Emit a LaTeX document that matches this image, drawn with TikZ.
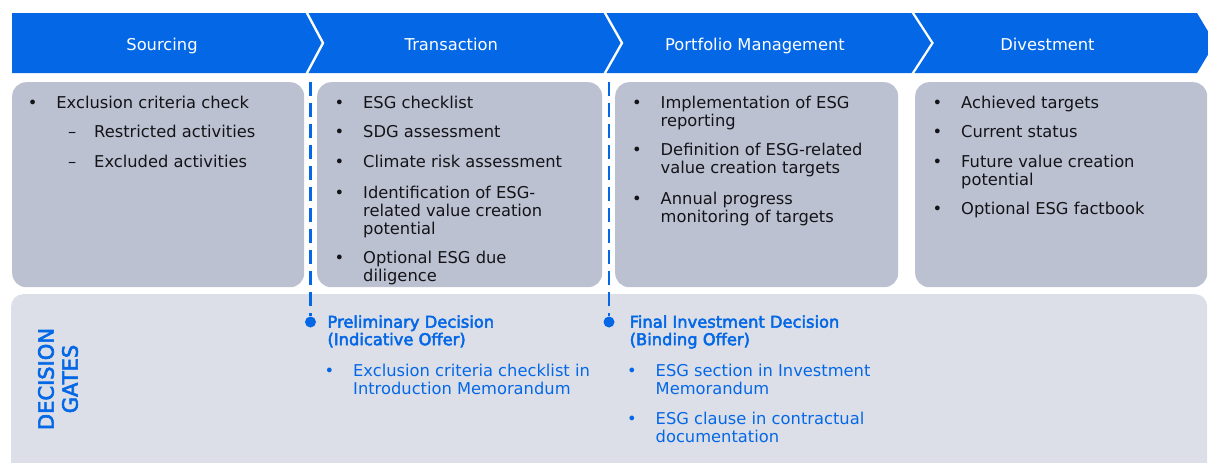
\documentclass[tikz,border=0pt]{standalone}
\usepackage{fontspec}
\setmainfont{DejaVu Sans}
\newfontfamily\semib[FakeBold=3]{DejaVu Sans}
\usetikzlibrary{positioning}

\definecolor{esgblue}{RGB}{4,104,230}
\definecolor{boxgrey}{RGB}{188,193,210}
\definecolor{gategrey}{RGB}{220,223,232}
\definecolor{textdark}{RGB}{20,20,24}

\newlength\bulw
\setlength\bulw{28.5pt}
\newcommand\bul[1]{\makebox[\bulw][l]{\textbullet}\begin{tabular}[t]{@{}l@{}}#1\end{tabular}}
\newcommand\subbul[1]{\makebox[26pt][l]{\textendash}\begin{tabular}[t]{@{}l@{}}#1\end{tabular}}

\begin{document}
\begin{tikzpicture}[x=1pt,y=-1pt,
                    stage/.style={fill=esgblue},
                    stagelabel/.style={anchor=base,text=white,font=\fontsize{16.3}{18}\selectfont},
                    phasebox/.style={fill=boxgrey,rounded corners=14pt,anchor=north west,inner sep=0pt},
                    item/.style={anchor=north west,inner sep=0pt,text=textdark,font=\fontsize{16.3}{18}\selectfont},
                    gatetitle/.style={item,text=esgblue,font=\semib\fontsize{16.3}{17}\selectfont},
                    gateitem/.style={item,text=esgblue},
                    gatedot/.style={circle,fill=esgblue,inner sep=0pt,minimum size=11pt},
                    gateline/.style={esgblue,line width=2.8pt,dash pattern=on 14pt off 7pt}]

\useasboundingbox (0,0) rectangle (1208,463);
\clip (0,0) rectangle (1208,463);

% stages
\fill[stage] (12,13) -- (305.5,13) -- (321.5,43) -- (305.5,73) -- (12,73) -- cycle;
\fill[stage] (308.5,13) -- (603.5,13) -- (620.5,43) -- (603.5,73) -- (308.5,73) -- (324.5,43) -- cycle;
\fill[stage] (606.5,13) -- (911.5,13) -- (931,43) -- (911.5,73) -- (606.5,73) -- (623.5,43) -- cycle;
\fill[stage] (914.5,13) -- (1197,13) -- (1215,43) -- (1197,73) -- (914.5,73) -- (934,43) -- cycle;

\node[stagelabel] (sourcing) at (162,50.7) {Sourcing};
\node[stagelabel] (transaction) at (451.3,50.7) {Transaction};
\node[stagelabel] (portfolio) at (755,50.7) {Portfolio Management};
\node[stagelabel] (divestment) at (1047.5,50.7) {Divestment};

% phase boxes
\node[phasebox,minimum width=292pt,minimum height=205pt] (sourcingbox) at (12,82) {};
\node[phasebox,minimum width=285pt,minimum height=205pt] (transactionbox) at (317,82) {};
\node[phasebox,minimum width=283pt,minimum height=205pt] (portfoliobox) at (615,82) {};
\node[phasebox,minimum width=292pt,minimum height=205pt] (divestmentbox) at (915,82) {};

% sourcing
\node[item] (excl) at (27.7,95.4) {\bul{Exclusion criteria check}};
\node[item,below=11pt of excl.south west,anchor=north west,xshift=40.3pt] (restr) {\subbul{Restricted activities}};
\node[item,below=11pt of restr.south west,anchor=north west] (excld) {\subbul{Excluded activities}};

% transaction
\node[item] (checklist) at (334.5,95.4) {\bul{ESG checklist}};
\node[item,below=11pt of checklist.south west,anchor=north west] (sdg) {\bul{SDG assessment}};
\node[item,below=11pt of sdg.south west,anchor=north west] (climate) {\bul{Climate risk assessment}};
\node[item,below=13pt of climate.south west,anchor=north west] (ident) {\bul{Identification of ESG-\\related value creation\\potential}};
\node[item,below=11pt of ident.south west,anchor=north west] (duedil) {\bul{Optional ESG due\\diligence}};

% portfolio management
\node[item] (implem) at (632,95.4) {\bul{Implementation of ESG\\reporting}};
\node[item,below=11pt of implem.south west,anchor=north west] (defin) {\bul{Definition of ESG-related\\value creation targets}};
\node[item,below=12pt of defin.south west,anchor=north west] (annual) {\bul{Annual progress\\monitoring of targets}};

% divestment
\node[item] (achieved) at (932.5,95.4) {\bul{Achieved targets}};
\node[item,below=11pt of achieved.south west,anchor=north west] (current) {\bul{Current status}};
\node[item,below=11pt of current.south west,anchor=north west] (future) {\bul{Future value creation\\potential}};
\node[item,below=11pt of future.south west,anchor=north west] (factbook) {\bul{Optional ESG factbook}};

% decision gates
\node[fill=gategrey,rounded corners=12pt,anchor=north west,inner sep=0pt,
      minimum width=1196pt,minimum height=190pt] (gatepanel) at (11,294) {};
\node[rotate=90,align=center,inner sep=0pt,text=esgblue,font=\semib\fontsize{21}{24}\selectfont] (gates) at (58,379) {DECISION\\GATES};

\coordinate (gate1top) at (310.5,82);
\node[gatedot] (gate1) at (310.5,322) {};
\draw[gateline] (gate1top) -- (gate1);
\coordinate (gate2top) at (609,82);
\node[gatedot] (gate2) at (609,322) {};
\draw[gateline] (gate2top) -- (gate2);

\node[gatetitle] (prelim) at (327.3,315.1) {\begin{tabular}[t]{@{}l@{}}Preliminary Decision\\(Indicative Offer)\end{tabular}};
\node[gateitem,below=13pt of prelim.south west,anchor=north west,xshift=-2.8pt] (prelimitem) {\bul{Exclusion criteria checklist in\\Introduction Memorandum}};

\node[gatetitle] (final) at (629.5,315.1) {\begin{tabular}[t]{@{}l@{}}Final Investment Decision\\(Binding Offer)\end{tabular}};
\node[gateitem,below=13pt of final.south west,anchor=north west,xshift=-2.5pt] (finalitem) {\bul{ESG section in Investment\\Memorandum}};
\node[gateitem,below=12pt of finalitem.south west,anchor=north west] (clause) {\bul{ESG clause in contractual\\documentation}};

\end{tikzpicture}
\end{document}
